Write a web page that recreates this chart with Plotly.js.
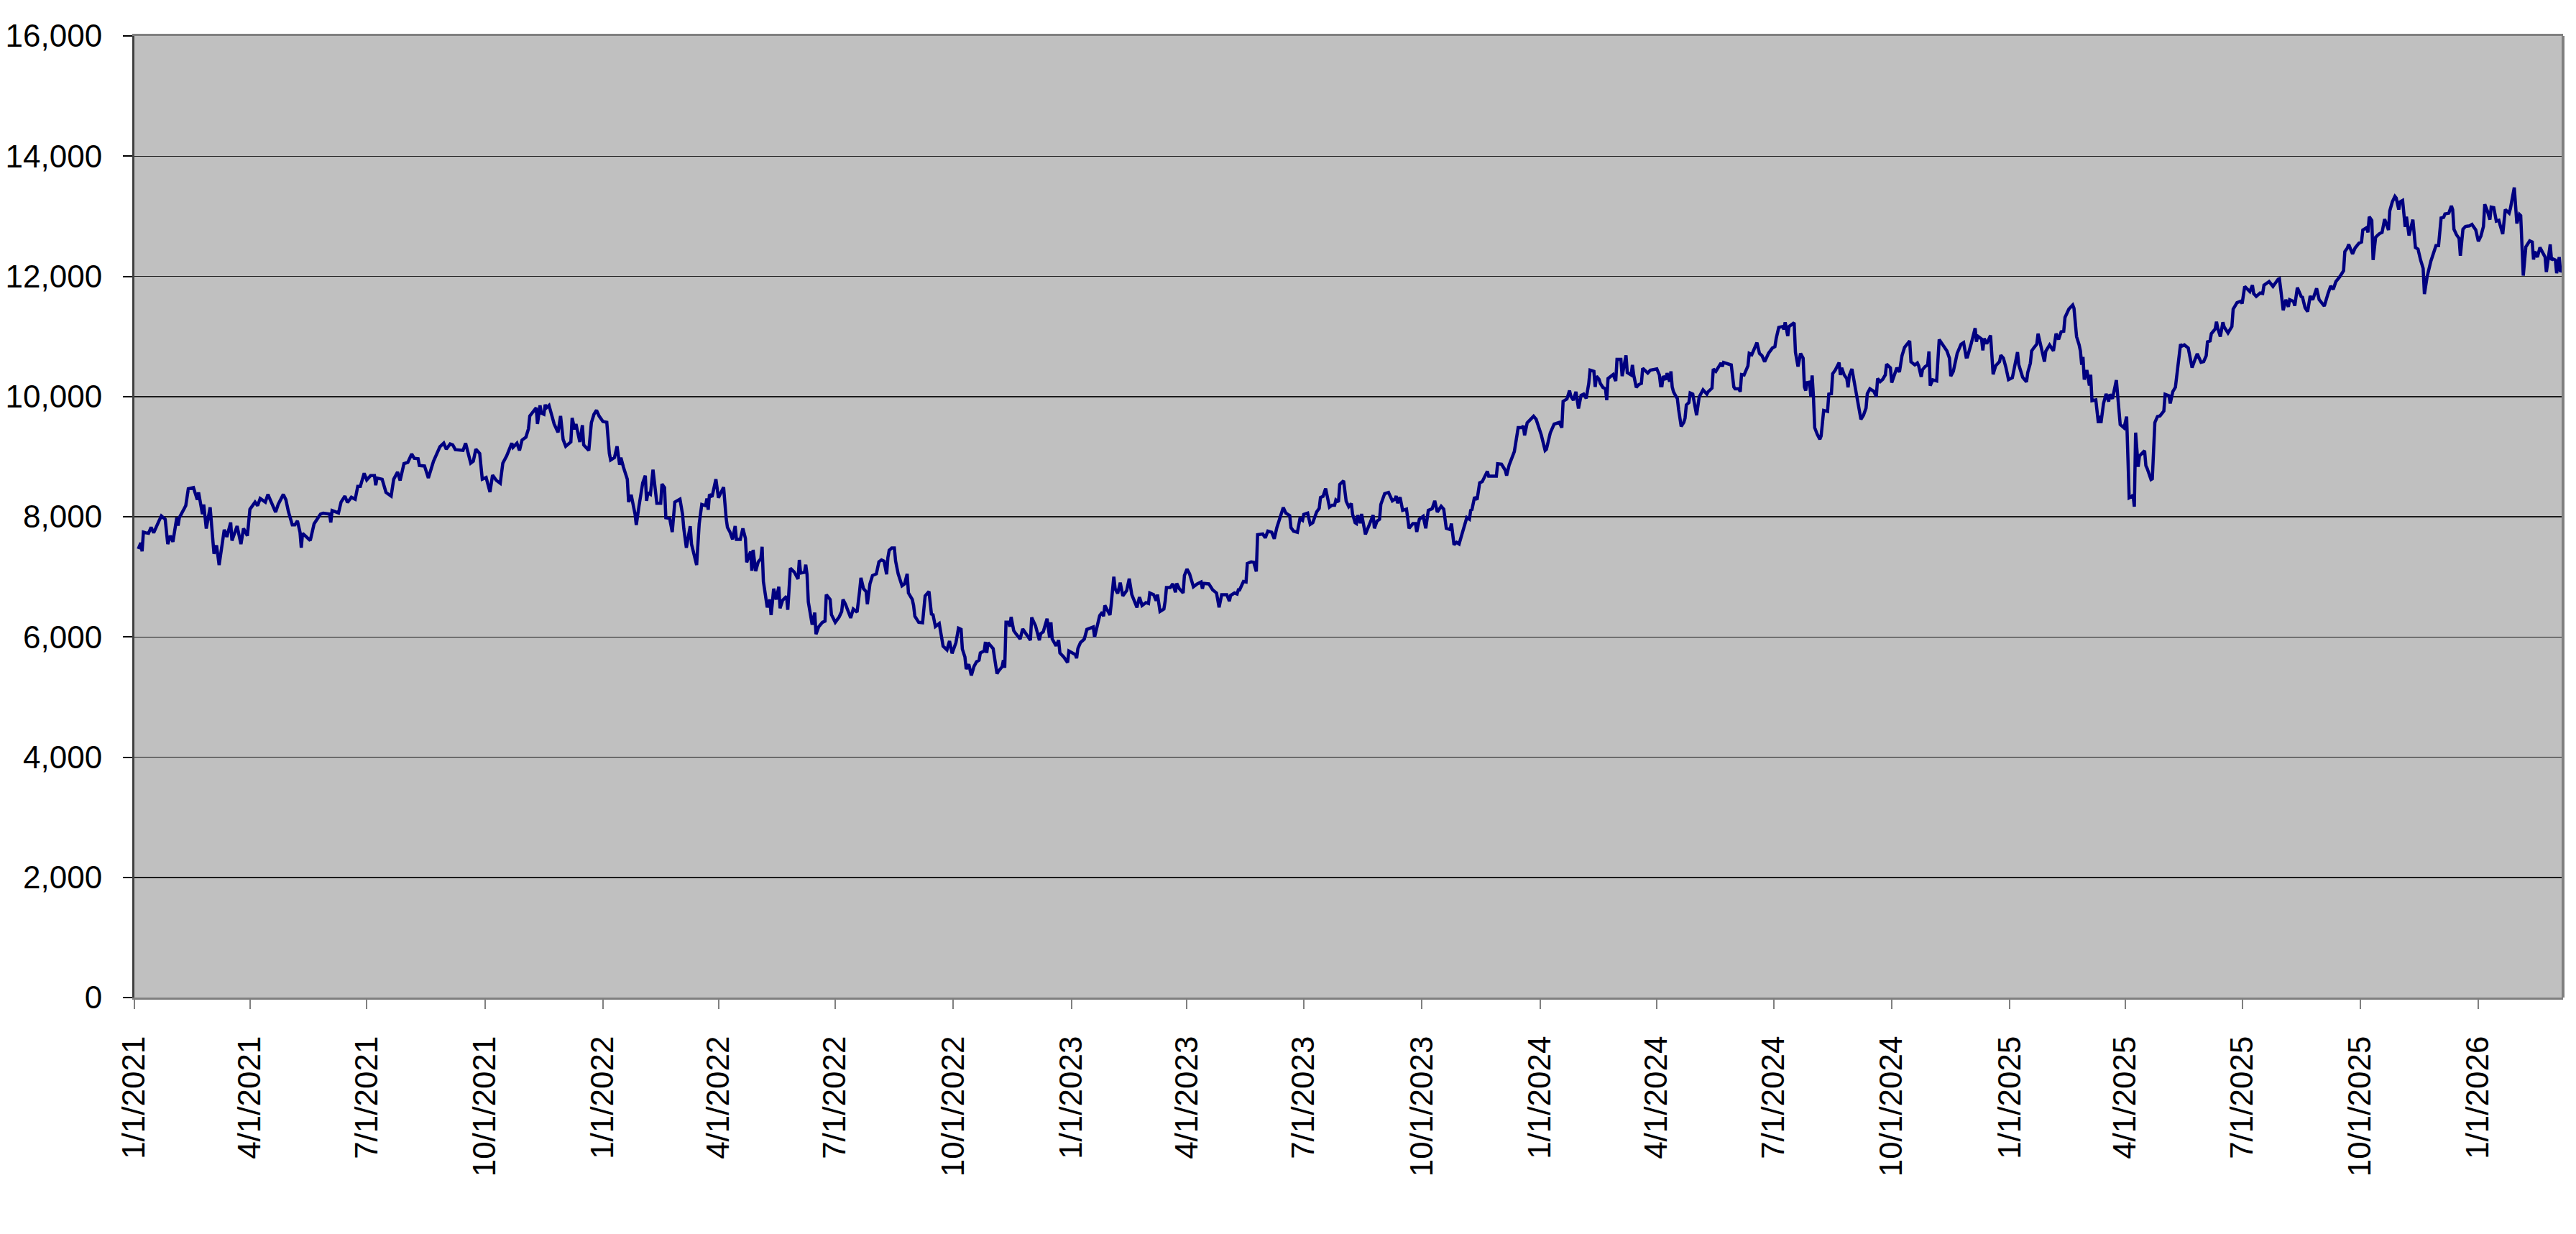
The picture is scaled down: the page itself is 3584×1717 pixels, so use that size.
<!DOCTYPE html>
<html>
<head>
<meta charset="utf-8">
<script src="https://cdn.plot.ly/plotly-3.0.1.min.js"></script>
<style>
  html, body { margin: 0; padding: 0; background: #fff; }
  #myDiv { width: 3584px; height: 1717px; }
</style>
</head>
<body>
<div id="myDiv"></div>
<script>
// [days since 1/1/2021, value]
var pts2021a = [[3,7464],[5,7564],[6,7424],[7,7744],[9,7732],[11,7724],[13,7824],[15,7732],[19,7924],[21,8012],[24,7956],[26,7544],[28,7684],[30,7584],[33,7984],[34,7852],[35,7984],[40,8184],[42,8464],[46,8484],[49,8284],[50,8404],[53,8044],[54,8204],[56,7804],[59,8156],[62,7384],[64,7524],[66,7196],[68,7504],[70,7784],[72,7664],[75,7904],[76,7604],[80,7844],[83,7544],[85,7804],[88,7684],[90,8124],[94,8244],[96,8184],[98,8304],[102,8244],[104,8372],[110,8076],[112,8204],[116,8372],[118,8284],[120,8084],[123,7864],[125,7864],[127,7932],[129,7744],[130,7484],[131,7724],[133,7684],[137,7604],[140,7884],[145,8044],[147,8060],[152,8044],[153,7904],[154,8104],[159,8064],[161,8244],[164,8344],[166,8236],[169,8324],[172,8292],[174,8504],[176,8504],[179,8724],[181,8612],[184,8684],[187,8684],[188,8524],[189,8644],[193,8624],[196,8404],[200,8344],[202,8624],[205,8744],[207,8604],[210,8884],[213,8904],[216,9044],[218,8972],[221,8964],[222,8852],[226,8844],[229,8644],[233,8924],[235,9024],[238,9164]];

var pts2021b = [[241,9224],[243,9124],[246,9212],[248,9196],[250,9116],[256,9104],[258,9224],[262,8892],[264,8924],[266,9124],[269,9052],[271,8624],[274,8652],[277,8412],[279,8692],[282,8604],[285,8556],[287,8892],[290,9012],[292,9124],[294,9224],[295,9156],[298,9224],[300,9104],[302,9276],[305,9324],[307,9464],[308,9676],[311,9764],[313,9812],[314,9544],[316,9852],[317,9724],[319,9704],[320,9864],[321,9812],[323,9852],[326,9624],[327,9544],[330,9404],[332,9676],[334,9284],[336,9172],[340,9244],[341,9644],[343,9452],[344,9544],[347,9244],[349,9524],[350,9196],[354,9104],[356,9564],[358,9704],[360,9772],[362,9676],[365,9584],[368,9572],[370,9052],[371,8944],[374,8984],[376,9172],[378,8864],[379,8984],[381,8824],[384,8624],[385,8244],[387,8364],[390,8044],[391,7864],[393,8164],[396,8564],[398,8684],[399,8264],[400,8396],[402,8372],[404,8784],[405,8604],[407,8224],[410,8224],[411,8544],[413,8484],[414,7984],[417,7972],[419,7744],[421,8244],[423,8276],[425,8292],[427,8044],[428,7804],[430,7484],[433,7844],[434,7544],[436,7344],[438,7196],[440,7884],[442,8204],[445,8184],[446,8304],[447,8116],[448,8372],[450,8332],[453,8624],[455,8316],[456,8364],[459,8492],[461,7972],[462,7824],[464,7744],[466,7624],[468,7844],[469,7624],[472,7624],[474,7804],[475,7724]];

var pts2022 = [[476,7641],[477,7242],[479,7382],[480,7421],[481,7102],[482,7449],[484,7094],[486,7250],[488,7302],[489,7501],[490,6923],[493,6492],[495,6623],[496,6364],[497,6572],[498,6803],[500,6623],[502,6835],[503,6476],[505,6611],[508,6675],[509,6452],[511,7142],[514,7082],[517,6963],[518,7282],[519,7062],[522,7074],[523,7202],[524,7042],[525,6584],[528,6204],[530,6404],[531,6045],[533,6165],[536,6244],[538,6264],[539,6703],[542,6623],[543,6372],[546,6244],[549,6332],[551,6424],[552,6623],[554,6543],[556,6444],[558,6316],[560,6464],[563,6412],[565,6771],[566,6983],[568,6803],[570,6755],[571,6543],[573,6883],[575,7022],[578,7050],[580,7250],[582,7282],[584,7262],[586,7042],[587,7322],[588,7441],[590,7481],[592,7481],[593,7262],[595,7050],[598,6851],[600,6883],[602,7050],[603,6731],[606,6623],[607,6524],[608,6344],[611,6244],[614,6236],[616,6683],[619,6755],[621,6364],[622,6384],[624,6173],[627,6224],[630,5845],[633,5785],[635,5933],[637,5726],[640,5905],[642,6145],[644,6125],[645,5798],[647,5666],[648,5466],[650,5546],[652,5359],[654,5506],[656,5586],[658,5614],[659,5734],[662,5766],[663,5917],[664,5734],[665,5905],[669,5806],[672,5387],[673,5427],[676,5506],[677,5614],[678,5486],[679,6244],[681,6244],[682,6173],[683,6332],[685,6105],[687,6045],[690,5965],[692,6133],[695,6037],[698,5945],[699,6324],[702,6185],[705,5945],[706,6053],[708,6085],[711,6304],[713,5985]];

var pts2023a = [[714,6244],[715,5965],[718,5853],[720,5945],[721,5734],[724,5666],[727,5574],[728,5766],[731,5726],[733,5706],[734,5646],[735,5806],[737,5905],[740,5965],[742,6125],[745,6157],[747,6165],[748,5997],[750,6204],[752,6356],[754,6412],[755,6344],[756,6524],[760,6364],[761,6556],[763,7002],[764,6803],[766,6723],[768,6903],[770,6683],[773,6771],[775,6970],[777,6703],[779,6604],[781,6492],[783,6663],[785,6524],[788,6572],[790,6556],[791,6731],[794,6703],[796,6604],[797,6703],[799,6424],[802,6464],[803,6596],[804,6823],[807,6823],[809,6883],[811,6743],[812,6891],[814,6803],[817,6731],[818,7022],[820,7130],[822,7050],[825,6835],[828,6883],[831,6915],[832,6803],[833,6891],[837,6883],[840,6783],[843,6731],[845,6492],[847,6703],[851,6703],[853,6596],[854,6691],[857,6731],[859,6715],[860,6783],[861,6783],[864,6923],[866,6915],[867,7222],[870,7250],[872,7242],[874,7090],[875,7701],[879,7713],[881,7649],[883,7761],[886,7741],[888,7633],[890,7820],[893,8000],[895,8152],[897,8060],[900,8020],[901,7820],[903,7761],[906,7741],[908,7968],[910,7940],[911,8040],[914,8060],[916,7872],[918,7900],[921,8080],[923,8140],[924,8319],[926,8339],[928,8471],[931,8160],[933,8192],[935,8192],[936,8279],[938,8247],[939,8539],[942,8598],[944,8259],[946,8168],[948,8220],[949,8040],[951,7900]];

var pts2023b = [[952,7886],[953,8026],[955,7894],[956,8046],[959,7707],[961,7807],[963,7906],[965,8026],[966,7807],[968,7926],[970,7958],[971,8205],[974,8385],[977,8405],[980,8265],[982,8293],[983,8345],[984,8225],[986,8325],[988,8106],[991,8126],[993,7807],[996,7886],[998,7886],[999,7747],[1001,7958],[1004,8006],[1006,7807],[1008,8106],[1011,8134],[1013,8265],[1015,8078],[1018,8174],[1020,8126],[1022,7807],[1025,7787],[1026,7886],[1028,7535],[1030,7575],[1032,7547],[1035,7767],[1038,7986],[1040,7958],[1041,8106],[1042,8118],[1044,8325],[1046,8285],[1048,8564],[1050,8584],[1054,8756],[1055,8676],[1059,8684],[1061,8676],[1062,8883],[1065,8875],[1068,8772],[1069,8684],[1071,8863],[1075,9083],[1078,9482],[1081,9482],[1082,9513],[1083,9354],[1085,9561],[1090,9673],[1092,9621],[1096,9362],[1099,9103],[1100,9123],[1103,9394],[1106,9541],[1110,9569],[1112,9482],[1113,9920],[1116,9960],[1118,10100],[1119,10008],[1121,9940],[1123,10080],[1125,9801],[1127,10020],[1129,10040],[1131,9968],[1133,10219],[1134,10439],[1137,10419],[1138,10160],[1139,10339],[1141,10287],[1142,10219],[1144,10152],[1146,10128],[1147,9940],[1148,10299],[1151,10339],[1152,10367],[1154,10259],[1155,10618],[1158,10618],[1159,10339],[1162,10686],[1163,10399],[1166,10359],[1167,10526],[1168,10359],[1170,10152],[1172,10200],[1174,10219],[1175,10471],[1179,10391],[1181,10439],[1186,10459],[1188,10359],[1189,10180]];

var pts2024 = [[1190,10180],[1191,10339],[1193,10279],[1194,10391],[1196,10247],[1197,10419],[1198,10160],[1199,10080],[1201,10000],[1202,9968],[1203,9781],[1205,9502],[1207,9569],[1208,9641],[1209,9860],[1211,9900],[1212,10060],[1214,10040],[1217,9689],[1219,9992],[1222,10112],[1225,10040],[1226,10080],[1229,10140],[1230,10459],[1232,10419],[1236,10558],[1237,10498],[1238,10566],[1240,10550],[1244,10526],[1246,10160],[1247,10128],[1250,10128],[1251,10080],[1252,10367],[1254,10359],[1257,10511],[1258,10718],[1260,10698],[1263,10845],[1264,10897],[1266,10718],[1268,10678],[1270,10578],[1273,10718],[1276,10806],[1278,10829],[1279,10965],[1281,11149],[1284,11165],[1285,11117],[1286,11236],[1288,11005],[1289,11165],[1293,11228],[1294,10738],[1296,10498],[1298,10718],[1300,10638],[1301,10160],[1302,10100],[1303,10231],[1305,10239],[1306,10000],[1307,10351],[1308,10008],[1309,9482],[1311,9370],[1313,9290],[1314,9342],[1316,9769],[1319,9753],[1320,10040],[1322,10048],[1323,10379],[1325,10439],[1327,10526],[1328,10566],[1329,10359],[1330,10478],[1332,10359],[1334,10299],[1335,10152],[1336,10351],[1338,10459],[1340,10199],[1342,9960],[1343,9880],[1345,9621],[1347,9689],[1349,9809],[1350,10048],[1352,10128],[1355,10088],[1357,10000],[1358,10299],[1360,10247],[1362,10287],[1364,10359],[1365,10538],[1368,10478],[1369,10231],[1371,10359],[1373,10478],[1375,10407],[1377,10678],[1379,10818],[1383,10925],[1384,10578],[1387,10526],[1389,10558],[1390,10511],[1392,10327],[1393,10447],[1395,10498],[1397,10526],[1398,10750],[1399,10180],[1401,10279],[1404,10259],[1406,10949],[1409,10857],[1412,10758],[1414,10638],[1415,10339],[1417,10419],[1418,10518],[1420,10718],[1423,10869],[1425,10897],[1427,10658]];

var pts2025a = [[1428,10660],[1431,10887],[1432,10978],[1434,11137],[1435,10911],[1436,11006],[1439,10958],[1440,10767],[1441,10966],[1443,10879],[1446,11018],[1448,10370],[1450,10513],[1453,10581],[1454,10688],[1456,10640],[1458,10481],[1460,10282],[1463,10314],[1465,10561],[1467,10740],[1468,10529],[1471,10322],[1474,10243],[1475,10402],[1477,10553],[1478,10759],[1480,10819],[1482,10871],[1483,11046],[1486,10799],[1488,10581],[1489,10752],[1492,10859],[1495,10759],[1497,11046],[1499,10950],[1501,11078],[1503,11086],[1504,11316],[1507,11455],[1510,11523],[1511,11467],[1513,10998],[1515,10859],[1516,10759],[1517,10529],[1518,10660],[1519,10282],[1521,10441],[1523,10183],[1524,10362],[1525,9932],[1528,9944],[1530,9559],[1531,9678],[1532,9559],[1534,9885],[1536,10044],[1538,9917],[1539,10036],[1541,9964],[1544,10274],[1547,9535],[1550,9479],[1552,9666],[1554,8314],[1556,8334],[1557,8366],[1558,8167],[1559,9400],[1561,8831],[1562,9010],[1566,9098],[1567,8851],[1568,8803],[1571,8620],[1572,8632],[1574,9567],[1576,9666],[1578,9678],[1581,9758],[1582,10036],[1585,10012],[1586,9885],[1588,10084],[1590,10155],[1592,10521],[1594,10871],[1595,10839],[1597,10859],[1600,10807],[1602,10600],[1603,10481],[1605,10600],[1607,10712],[1610,10569],[1612,10581],[1614,10680],[1615,10911],[1617,10926],[1618,11046],[1621,11125],[1622,11245],[1623,11137],[1625,10998],[1627,11237],[1628,11157],[1631,11058],[1634,11165],[1635,11455],[1638,11563],[1641,11586],[1642,11547],[1644,11833],[1648,11746],[1650,11853],[1651,11714],[1653,11666],[1656,11722],[1658,11714],[1659,11853],[1663,11913],[1666,11833],[1670,11952],[1671,11960],[1672,11793],[1674,11435]];

var pts2025b = [[1676,11612],[1678,11493],[1679,11612],[1682,11584],[1683,11512],[1685,11812],[1688,11664],[1689,11652],[1691,11480],[1693,11413],[1695,11672],[1697,11612],[1700,11800],[1702,11612],[1704,11560],[1706,11504],[1709,11720],[1711,11840],[1713,11784],[1715,11912],[1718,11992],[1721,12092],[1722,12412],[1724,12472],[1725,12531],[1728,12372],[1730,12472],[1733,12551],[1735,12571],[1736,12771],[1739,12811],[1740,12731],[1741,12991],[1743,12931],[1744,12272],[1746,12651],[1748,12691],[1749,12711],[1751,12731],[1753,12951],[1756,12771],[1757,13091],[1759,13239],[1761,13331],[1762,13303],[1764,13111],[1765,13239],[1767,13263],[1769,12823],[1770,12991],[1772,12679],[1775,12943],[1777,12480],[1779,12452],[1781,12272],[1783,12132],[1784,11704],[1786,11984],[1789,12252],[1793,12512],[1795,12512],[1797,12971],[1799,12983],[1800,13039],[1803,13051],[1805,13171],[1806,13111],[1807,12783],[1809,12691],[1811,12631],[1812,12344],[1814,12783],[1816,12831],[1819,12839],[1821,12863],[1824,12771],[1826,12583],[1828,12671],[1830,12831],[1831,13199],[1833,13091],[1835,12943],[1836,13151],[1838,13143],[1840,12919],[1842,12931],[1843,12851],[1845,12703],[1847,13111],[1850,13051],[1851,13131],[1854,13479],[1856,12879],[1858,13031],[1859,13011],[1861,12012],[1863,12491],[1864,12531],[1866,12591],[1868,12571],[1869,12280],[1870,12412],[1872,12320],[1874,12480],[1876,12412],[1878,12320],[1879,12072],[1882,12531],[1883,12272],[1884,12292],[1886,12272],[1887,12052],[1889,12320],[1890,12072],[1891,12120]];

var yTicks = [0, 2000, 4000, 6000, 8000, 10000, 12000, 14000, 16000];

var allPts = pts2021a.concat(pts2021b, pts2022, pts2023a, pts2023b, pts2024, pts2025a, pts2025b);
var start = Date.UTC(2021, 0, 1);
var dates = allPts.map(function (p) {
  return new Date(start + p[0] * 86400000).toISOString().slice(0, 10);
});
var values = allPts.map(function (p) { return p[1]; });

var font = 'Liberation Sans, Arial, sans-serif';

var trace1 = {
  x: dates,
  y: values,
  type: 'scatter',
  mode: 'lines',
  line: { color: '#000080', width: 4.5 },
  hoverinfo: 'skip'
};

var layout = {
  width: 3584,
  height: 1717,
  margin: { l: 187, r: 18, t: 50, b: 329, pad: 0 },
  paper_bgcolor: '#ffffff',
  plot_bgcolor: '#c0c0c0',
  showlegend: false,
  xaxis: {
    type: 'date',
    range: ['2021-01-01', '2026-03-08'],
    tick0: '2021-01-01',
    dtick: 'M3',
    tickformat: '%-m/%-d/%Y',
    tickangle: -90,
    ticks: 'outside',
    ticklen: 13,
    tickwidth: 2,
    tickcolor: '#808080',
    ticklabelstandoff: 20,
    showgrid: false,
    zeroline: false,
    showline: true,
    linecolor: '#808080',
    linewidth: 3,
    mirror: true,
    tickfont: { family: font, size: 44, color: '#000' }
  },
  yaxis: {
    range: [0, 16000],
    tickmode: 'array',
    tickvals: yTicks,
    tickformat: ',d',
    ticks: 'outside',
    ticklen: 13,
    tickwidth: 2,
    tickcolor: '#000',
    ticklabelstandoff: 20,
    showgrid: true,
    gridcolor: '#1a1a1a',
    gridwidth: 1.5,
    zeroline: false,
    showline: true,
    linecolor: '#404040',
    linewidth: 3,
    tickfont: { family: font, size: 44, color: '#000' }
  },
  shapes: [{
    type: 'line', xref: 'paper', yref: 'paper',
    x0: 1, x1: 1, y0: 0, y1: 1,
    line: { color: '#808080', width: 4 }
  }]
};

Plotly.newPlot('myDiv', [trace1], layout, { staticPlot: true, displayModeBar: false });
</script>
</body>
</html>
